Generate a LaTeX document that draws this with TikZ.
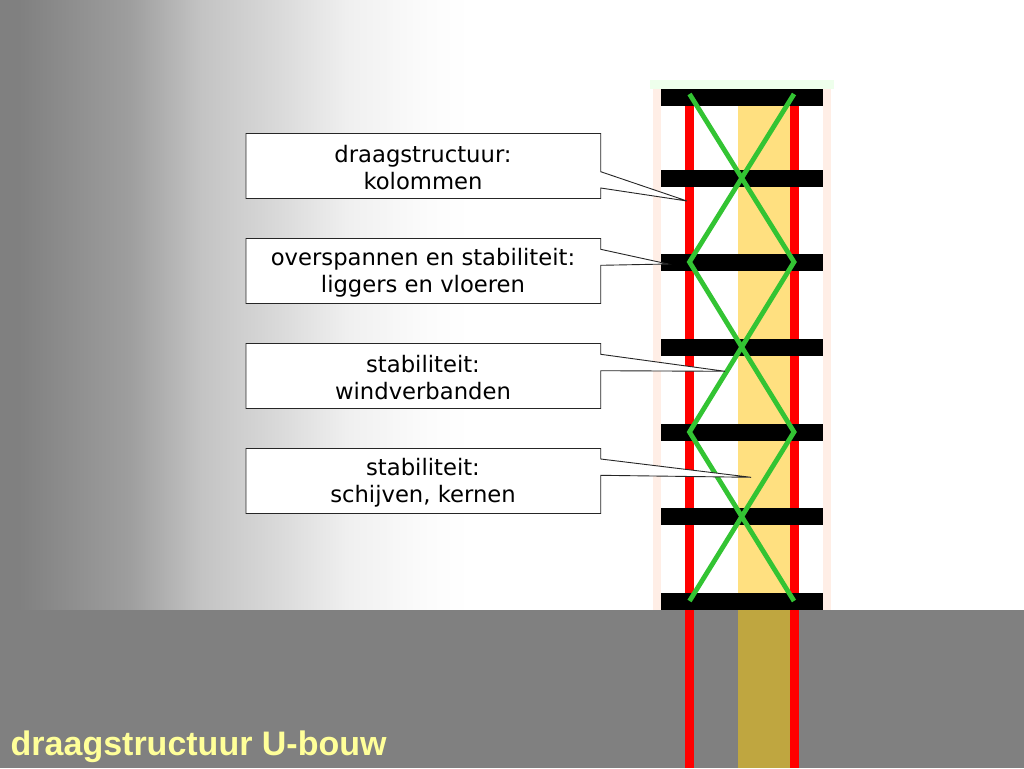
\documentclass[tikz,border=0pt]{standalone}
\usepackage{fontspec}
\setmainfont{DejaVu Sans}
\newfontfamily\titlefont{Liberation Sans}
\definecolor{groundgray}{RGB}{128,128,128}
\definecolor{palecol}{RGB}{255,238,230}
\definecolor{palegreen}{RGB}{238,255,236}
\definecolor{coreyellow}{RGB}{255,224,128}
\definecolor{coredark}{RGB}{191,166,64}
\definecolor{bracegreen}{RGB}{51,196,51}
\definecolor{titleyellow}{RGB}{255,255,153}
\definecolor{fadeA}{RGB}{158,158,158}
\definecolor{fadeB}{RGB}{195,195,195}
\definecolor{fadeC}{RGB}{218,218,218}
\definecolor{fadeD}{RGB}{240,240,240}
\definecolor{fadeE}{RGB}{252,252,252}
\pgfdeclarehorizontalshading{skyfade}{100bp}{
  color(0bp)=(groundgray);
  color(27bp)=(groundgray);
  color(38.8bp)=(fadeA);
  color(46.3bp)=(fadeB);
  color(54.8bp)=(fadeC);
  color(62.2bp)=(fadeD);
  color(70.7bp)=(fadeE);
  color(75bp)=(white);
  color(100bp)=(white)}
\tikzset{
  x=1pt,y=-1pt,
  calloutbox/.style={draw=black!85,fill=white,line width=0.9pt,line join=miter},
  calloutlabel/.style={align=center,font=\fontsize{22.7}{27.5}\selectfont,inner sep=0pt,text=black},
  beam/.style={fill=black,draw=none},
  redcol/.style={fill=red,draw=none},
  brace/.style={draw=bracegreen,line width=4.8pt,line join=miter,line cap=butt},
}
\begin{document}
\begin{tikzpicture}
\useasboundingbox (0,0) rectangle (1024,768);
\fill[white] (0,0) rectangle (1024,768);
\shade[shading=skyfade,draw=none] (0,0) rectangle (470,610);
\fill[palecol] (653,89) rectangle (661,610);
\fill[palecol] (823,89) rectangle (831,610);
\fill[palegreen] (650,80) rectangle (834,89);
\fill[groundgray] (0,610) rectangle (1024,768);
\fill[coreyellow] (738,106) rectangle (790,610);
\fill[coredark] (738,610) rectangle (790,768);
\fill[redcol] (685,106) rectangle (693.5,768);
\fill[redcol] (790,106) rectangle (798.5,768);
\foreach \y in {89,169.5,254,339,423.5,508,593}
  \fill[beam] (661,\y) rectangle (822.7,\y+17);
\draw[brace] (689.5,94) -- (794,262) -- (689.5,432) -- (794,601);
\draw[brace] (794,94) -- (689.5,262) -- (794,432) -- (689.5,601);
\draw[calloutbox] (246,133.5) -- (600.7,133.5) -- (600.7,171.7) -- (687,201) -- (600.7,188) -- (600.7,198.5) -- (246,198.5) -- cycle;
\draw[calloutbox] (246,238.5) -- (600.7,238.5) -- (600.7,249.3) -- (668,264) -- (600.7,265.3) -- (600.7,303.5) -- (246,303.5) -- cycle;
\draw[calloutbox] (246,343.5) -- (600.7,343.5) -- (600.7,354.3) -- (725,371.3) -- (600.7,370.7) -- (600.7,408.5) -- (246,408.5) -- cycle;
\draw[calloutbox] (246,448.5) -- (600.7,448.5) -- (600.7,459) -- (751,477.3) -- (600.7,475.3) -- (600.7,513.5) -- (246,513.5) -- cycle;
\node[calloutlabel] (a) at (423,167.5) {draagstructuur:\\kolommen};
\node[calloutlabel] (b) at (423,272.8) {overspannen en stabiliteit:\\liggers en vloeren};
\node[calloutlabel] (c) at (423,377.7) {stabiliteit:\\windverbanden};
\node[calloutlabel] (d) at (423,482.8) {stabiliteit:\\schijven, kernen};
\node[anchor=base west,inner sep=0pt,text=titleyellow,font=\titlefont\bfseries\fontsize{34}{40}\selectfont] (title) at (10.5,755) {draagstructuur U-bouw};
\end{tikzpicture}
\end{document}
